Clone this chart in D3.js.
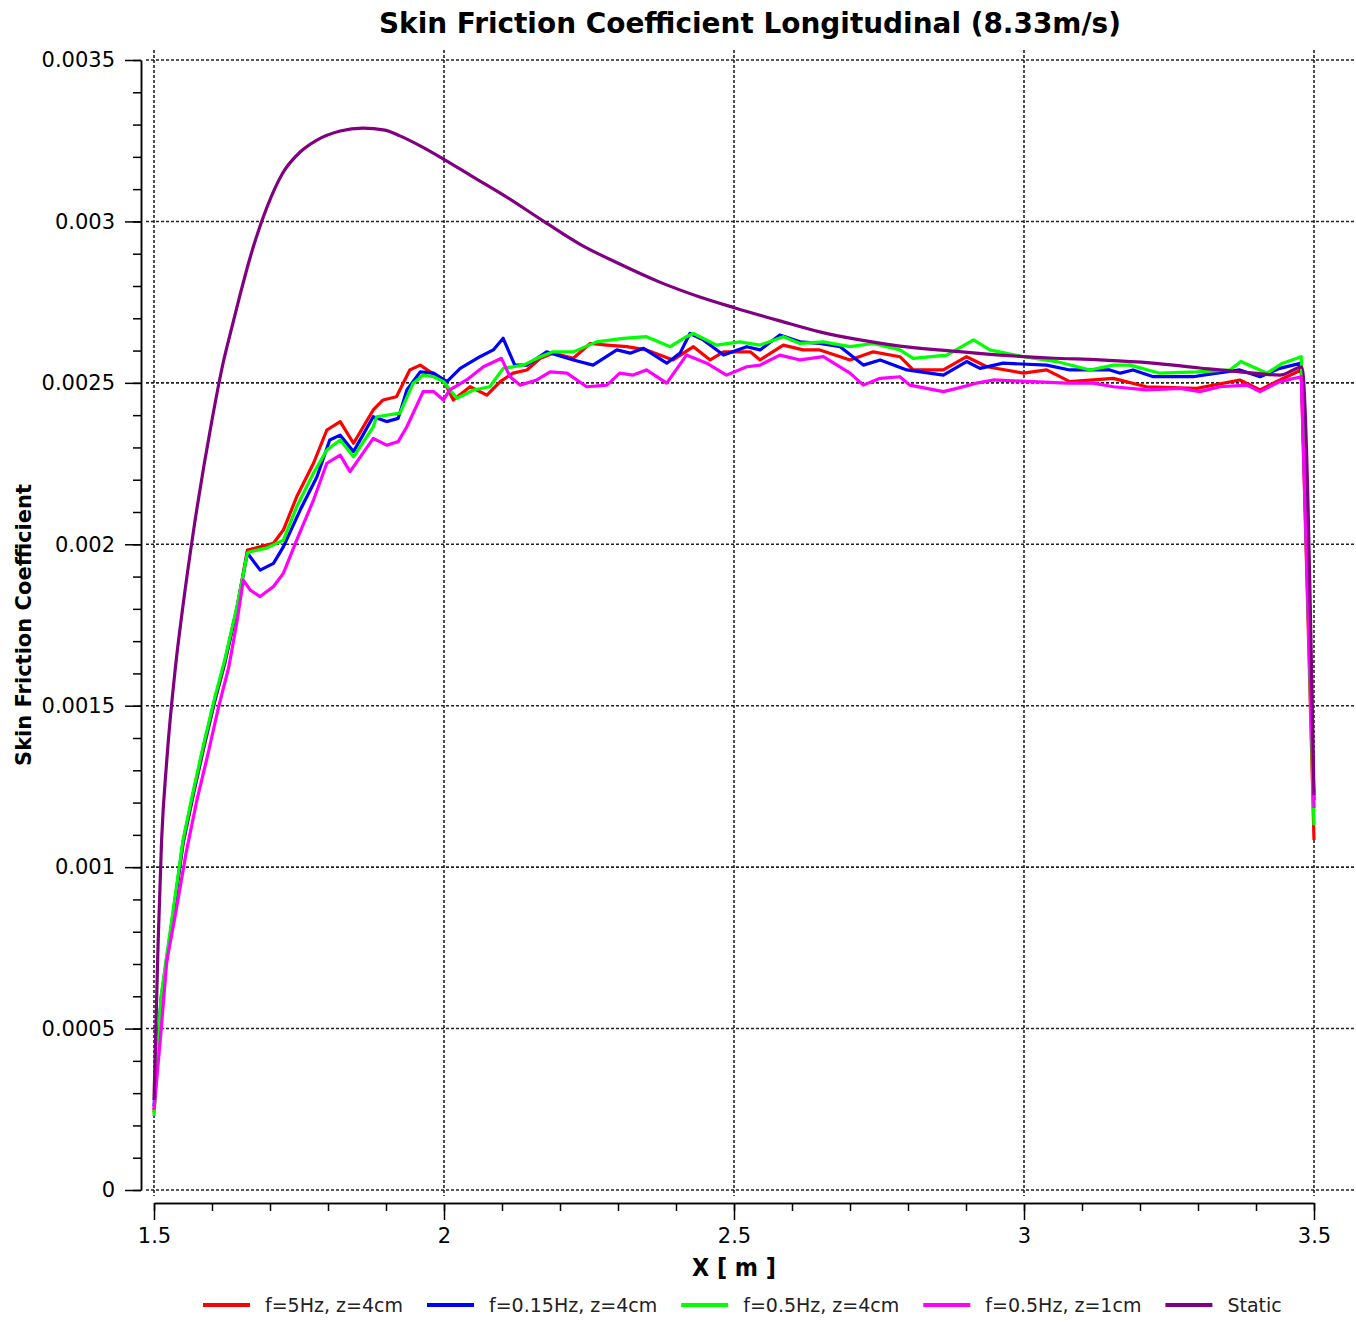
<!DOCTYPE html>
<html>
<head>
<meta charset="utf-8">
<script src="https://cdn.jsdelivr.net/npm/d3@7"></script>
<style>
  body { margin: 0; background: #fff; }
  text { font-family: "DejaVu Sans", Verdana, sans-serif; }
</style>
</head>
<body>
<script>
// chart text
const title = 'Skin Friction Coefficient Longitudinal (8.33m/s)';
const xTitle = 'X [ m ]';
const yTitle = 'Skin Friction Coefficient';

const xTicks = [1.5, 2, 2.5, 3, 3.5];
const yTicks = [0, 0.0005, 0.001, 0.0015, 0.002, 0.0025, 0.003, 0.0035];
const yTickLabels = ['0', '0.0005', '0.001', '0.0015', '0.002', '0.0025', '0.003', '0.0035'];

const seriesNames = ['f=5Hz, z=4cm', 'f=0.15Hz, z=4cm', 'f=0.5Hz, z=4cm', 'f=0.5Hz, z=1cm', 'Static'];
const seriesColors = ['#ff0000', '#0000ff', '#00ff00', '#ff00ff', '#800080'];

// [x (m), Cf]
const red = [
    [1.5, 0.00024], [1.512, 0.00058], [1.525, 0.00075], [1.538, 0.000915], [1.55, 0.00107],
    [1.568, 0.001225], [1.586, 0.00137], [1.605, 0.001515], [1.622, 0.00163], [1.643, 0.0018],
    [1.661, 0.001982], [1.706, 0.002003], [1.723, 0.002044], [1.746, 0.002147], [1.775, 0.002251],
    [1.798, 0.002354], [1.821, 0.00238], [1.844, 0.002313], [1.878, 0.002416], [1.895, 0.002447],
    [1.918, 0.002457], [1.941, 0.00254], [1.959, 0.002555], [1.976, 0.002534], [1.999, 0.002509],
    [2.016, 0.002447], [2.045, 0.002488], [2.074, 0.002462], [2.097, 0.002504], [2.119, 0.00253],
    [2.143, 0.00254], [2.166, 0.002576], [2.188, 0.002592], [2.223, 0.002576], [2.252, 0.002622],
    [2.281, 0.002617], [2.315, 0.002612], [2.349, 0.002602], [2.395, 0.002571], [2.43, 0.002612],
    [2.459, 0.002571], [2.482, 0.002596], [2.528, 0.002596], [2.545, 0.002571], [2.585, 0.002617],
    [2.619, 0.002602], [2.648, 0.002602], [2.7, 0.002571], [2.74, 0.002596], [2.786, 0.002581],
    [2.809, 0.00254], [2.861, 0.00254], [2.901, 0.002581], [2.936, 0.00255], [2.999, 0.00253],
    [3.039, 0.00254], [3.079, 0.002504], [3.154, 0.002514], [3.211, 0.002488], [3.298, 0.002483],
    [3.372, 0.002509], [3.407, 0.002478], [3.441, 0.002509], [3.478, 0.00254], [3.5, 0.001084]
];

const blue = [
    [1.5, 0.00026], [1.512, 0.00059], [1.525, 0.000755], [1.538, 0.00092], [1.55, 0.001078],
    [1.568, 0.001232], [1.586, 0.001378], [1.605, 0.00152], [1.622, 0.001636], [1.643, 0.001803],
    [1.661, 0.001973], [1.683, 0.00192], [1.706, 0.001941], [1.723, 0.001992], [1.752, 0.002106],
    [1.781, 0.002209], [1.803, 0.002323], [1.821, 0.002338], [1.844, 0.002287], [1.878, 0.002395],
    [1.901, 0.00238], [1.921, 0.00239], [1.936, 0.002478], [1.959, 0.002534], [1.982, 0.00253],
    [2.005, 0.002504], [2.028, 0.002545], [2.062, 0.002581], [2.085, 0.002602], [2.102, 0.002638],
    [2.122, 0.002555], [2.143, 0.002555], [2.177, 0.002596], [2.223, 0.002571], [2.257, 0.002555],
    [2.298, 0.002602], [2.321, 0.002592], [2.344, 0.002607], [2.384, 0.002561], [2.407, 0.002592],
    [2.424, 0.002653], [2.447, 0.002633], [2.482, 0.002586], [2.522, 0.002612], [2.545, 0.002602],
    [2.579, 0.002648], [2.614, 0.002627], [2.648, 0.002622], [2.683, 0.002612], [2.723, 0.002555],
    [2.752, 0.002571], [2.798, 0.00254], [2.861, 0.002524], [2.901, 0.002566], [2.924, 0.002545],
    [2.964, 0.002561], [3.039, 0.002555], [3.079, 0.00254], [3.148, 0.00254], [3.166, 0.00253],
    [3.188, 0.00254], [3.223, 0.002519], [3.292, 0.002519], [3.309, 0.002524], [3.372, 0.00254],
    [3.407, 0.002519], [3.441, 0.002545], [3.478, 0.002561], [3.5, 0.001208]
];

const green = [
    [1.5, 0.000229], [1.512, 0.000598], [1.525, 0.000765], [1.538, 0.000929], [1.55, 0.001084],
    [1.568, 0.001239], [1.586, 0.001384], [1.605, 0.001527], [1.622, 0.001642], [1.643, 0.001807],
    [1.661, 0.001973], [1.666, 0.001977], [1.694, 0.001988], [1.723, 0.002013], [1.746, 0.002116],
    [1.775, 0.002221], [1.798, 0.002292], [1.821, 0.002323], [1.844, 0.002271], [1.878, 0.002364],
    [1.884, 0.002395], [1.924, 0.002406], [1.947, 0.002499], [1.964, 0.002524], [1.982, 0.002519],
    [1.999, 0.002504], [2.022, 0.002452], [2.051, 0.002478], [2.079, 0.002488], [2.102, 0.002545],
    [2.137, 0.002555], [2.166, 0.002581], [2.188, 0.002596], [2.223, 0.002596], [2.263, 0.002627],
    [2.309, 0.002638], [2.349, 0.002643], [2.39, 0.002612], [2.418, 0.002643], [2.43, 0.002653],
    [2.47, 0.002617], [2.51, 0.002627], [2.545, 0.002617], [2.585, 0.002643], [2.614, 0.002622],
    [2.654, 0.002627], [2.7, 0.002612], [2.74, 0.002622], [2.786, 0.002602], [2.809, 0.002576],
    [2.867, 0.002586], [2.913, 0.002633], [2.941, 0.002602], [2.999, 0.002581], [3.056, 0.002566],
    [3.114, 0.00254], [3.154, 0.002555], [3.183, 0.002555], [3.234, 0.00253], [3.298, 0.002534],
    [3.355, 0.00254], [3.374, 0.002566], [3.419, 0.00253], [3.446, 0.002561], [3.478, 0.002581],
    [3.5, 0.00113]
];

const magenta = [
    [1.5, 0.000248], [1.512, 0.000489], [1.522, 0.000709], [1.538, 0.000864], [1.555, 0.001041],
    [1.574, 0.001208], [1.593, 0.00135], [1.611, 0.001493], [1.629, 0.001620], [1.643, 0.00176],
    [1.654, 0.001889], [1.666, 0.001858], [1.683, 0.001838], [1.706, 0.001869], [1.723, 0.00191],
    [1.746, 0.002013], [1.775, 0.002137], [1.798, 0.002251], [1.821, 0.002276], [1.838, 0.002225],
    [1.878, 0.002328], [1.901, 0.002307], [1.921, 0.002318], [1.936, 0.002364], [1.964, 0.002473],
    [1.982, 0.002473], [1.999, 0.002447], [2.01, 0.002478], [2.039, 0.002509], [2.068, 0.00255],
    [2.099, 0.002576], [2.114, 0.002519], [2.131, 0.002493], [2.16, 0.002509], [2.183, 0.002534],
    [2.212, 0.00253], [2.246, 0.002488], [2.281, 0.002493], [2.303, 0.00253], [2.326, 0.002524],
    [2.349, 0.00254], [2.384, 0.002499], [2.418, 0.002586], [2.453, 0.002561], [2.487, 0.002524],
    [2.522, 0.00255], [2.545, 0.002555], [2.579, 0.002586], [2.614, 0.002571], [2.654, 0.002581],
    [2.7, 0.00253], [2.723, 0.002493], [2.752, 0.002514], [2.786, 0.002519], [2.803, 0.002493],
    [2.861, 0.002473], [2.884, 0.002483], [2.918, 0.002499], [2.947, 0.002509], [3.074, 0.002499],
    [3.119, 0.002499], [3.154, 0.002488], [3.211, 0.002478], [3.269, 0.002483], [3.303, 0.002473],
    [3.338, 0.002488], [3.384, 0.002493], [3.407, 0.002473], [3.441, 0.002504], [3.478, 0.002519],
    [3.5, 0.001183]
];

const stat = [
    [1.5, 0.000279], [1.507, 0.000760], [1.513, 0.001080], [1.522, 0.001330], [1.537, 0.001620],
    [1.55, 0.001810], [1.568, 0.002040], [1.6, 0.002385], [1.619, 0.00256], [1.634, 0.00267],
    [1.648, 0.00277], [1.666, 0.00289], [1.695, 0.003045], [1.722, 0.00315], [1.752, 0.003215],
    [1.781, 0.003252], [1.821, 0.00328], [1.86, 0.003289], [1.898, 0.003283], [1.924, 0.003265],
    [1.959, 0.003234], [2.002, 0.00319], [2.05, 0.003138], [2.097, 0.003088], [2.174, 0.002998],
    [2.234, 0.00293], [2.303, 0.002868], [2.372, 0.002812], [2.441, 0.002766], [2.502, 0.002732],
    [2.579, 0.002692], [2.648, 0.002658], [2.717, 0.002633], [2.786, 0.002614], [2.872, 0.002599],
    [2.959, 0.002586], [3.045, 0.002577], [3.131, 0.002571], [3.217, 0.002562], [3.303, 0.002546],
    [3.39, 0.002531], [3.441, 0.002524], [3.479, 0.002549], [3.5, 0.001223]
];

const allSeries = [red, blue, green, magenta, stat];

const width = 1356;
const height = 1322;

const svg = d3.select('body')
    .append('svg')
    .attr('width', width)
    .attr('height', height);

const x_scale = d3.scaleLinear().domain([1.5, 3.5]).range([154, 1314]);
const y_scale = d3.scaleLinear().domain([0, 0.0035]).range([1190, 60]);

// grid
const grid = svg.append('g')
    .attr('stroke', '#222')
    .attr('stroke-width', 1.6)
    .attr('stroke-dasharray', '3,2');

grid.selectAll('line.h')
    .data(yTicks)
    .enter()
    .append('line')
    .attr('class', 'h')
    .attr('x1', 146)
    .attr('x2', width)
    .attr('y1', d => y_scale(d))
    .attr('y2', d => y_scale(d));

grid.selectAll('line.v')
    .data(xTicks)
    .enter()
    .append('line')
    .attr('class', 'v')
    .attr('x1', d => x_scale(d))
    .attr('x2', d => x_scale(d))
    .attr('y1', 50)
    .attr('y2', 1196);

// axes
const minorX = d3.range(15, 36).map(d => d / 10);
const minorY = d3.range(0, 36).map(d => d / 10000);

const xAxisG = svg.append('g').attr('transform', 'translate(0,1203)');
xAxisG.append('g')
    .call(d3.axisBottom(x_scale).tickValues(minorX).tickSize(8).tickSizeOuter(0).tickFormat(''));
xAxisG.append('g')
    .call(d3.axisBottom(x_scale).tickValues(xTicks).tickSize(17).tickSizeOuter(0).tickPadding(8)
        .tickFormat(d3.format('')));

const yAxisG = svg.append('g').attr('transform', 'translate(141,0)');
yAxisG.append('g')
    .call(d3.axisLeft(y_scale).tickValues(minorY).tickSize(8).tickSizeOuter(0).tickFormat(''));
yAxisG.append('g')
    .call(d3.axisLeft(y_scale).tickValues(yTicks).tickSize(16).tickSizeOuter(0).tickPadding(10)
        .tickFormat((d, i) => yTickLabels[i]));

svg.selectAll('.tick line, .domain')
    .attr('stroke', '#000')
    .attr('stroke-width', 1.5);
svg.selectAll('.tick text')
    .attr('fill', '#000')
    .attr('font-size', '21px')
    .attr('font-family', '"DejaVu Sans", Verdana, sans-serif');

// curves
const line = d3.line()
    .x(d => x_scale(d[0]))
    .y(d => y_scale(d[1]));

// static run is smooth in the original
const smoothLine = d3.line()
    .x(d => x_scale(d[0]))
    .y(d => y_scale(d[1]))
    .curve(d3.curveMonotoneX);

svg.append('g')
    .selectAll('path')
    .data(allSeries)
    .enter()
    .append('path')
    .attr('d', (d, i) => i === 4 ? smoothLine(d) : line(d))
    .attr('fill', 'none')
    .attr('stroke', (d, i) => seriesColors[i])
    .attr('stroke-width', 3.2)
    .attr('stroke-linejoin', 'round');

// titles
svg.append('text')
    .attr('x', 750)
    .attr('y', 33)
    .attr('text-anchor', 'middle')
    .attr('font-size', '28px')
    .attr('font-weight', 'bold')
    .attr('textLength', 742)
    .attr('lengthAdjust', 'spacingAndGlyphs')
    .text(title);

svg.append('text')
    .attr('x', 734)
    .attr('y', 1276)
    .attr('text-anchor', 'middle')
    .attr('font-size', '24px')
    .attr('font-weight', 'bold')
    .attr('textLength', 84)
    .attr('lengthAdjust', 'spacingAndGlyphs')
    .text(xTitle);

svg.append('text')
    .attr('transform', 'translate(31,625) rotate(-90)')
    .attr('text-anchor', 'middle')
    .attr('font-size', '22px')
    .attr('font-weight', 'bold')
    .attr('textLength', 282)
    .attr('lengthAdjust', 'spacingAndGlyphs')
    .text(yTitle);

// legend
const legend = svg.append('g').attr('transform', 'translate(0,1305)');
let lx = 203;
seriesNames.forEach(function (name, i) {
    legend.append('line')
        .attr('x1', lx)
        .attr('x2', lx + 47)
        .attr('y1', 0)
        .attr('y2', 0)
        .attr('stroke', seriesColors[i])
        .attr('stroke-width', 4);
    const t = legend.append('text')
        .attr('x', lx + 62)
        .attr('y', 7)
        .attr('font-size', '19px')
        .attr('fill', '#222')
        .text(name);
    lx = lx + 62 + t.node().getComputedTextLength() + 24;
});
</script>
</body>
</html>
